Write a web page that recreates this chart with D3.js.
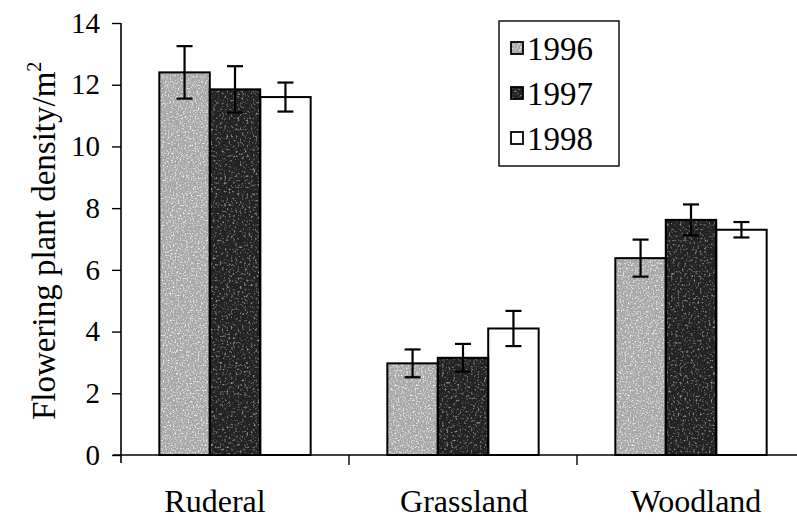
<!DOCTYPE html>
<html>
<head>
<meta charset="utf-8">
<script src="https://cdn.jsdelivr.net/npm/d3@7"></script>
<style>
  html, body { margin: 0; padding: 0; background: #fff; }
  svg { display: block; }
</style>
</head>
<body>
<svg id="chart" width="797" height="521"></svg>
<script>
// Habitat categories and survey years
const categories = ["Ruderal", "Grassland", "Woodland"];
const years = ["1996", "1997", "1998"];

// Mean flowering plant density per m² (rows follow categories, columns follow years)
const density1996 = [12.4, 2.97, 6.38];
const density1997 = [11.85, 3.15, 7.62];
const density1998 = [11.6, 4.1, 7.3];

// Error bar half-widths (same layout)
const error1996 = [0.85, 0.45, 0.6];
const error1997 = [0.75, 0.45, 0.5];
const error1998 = [0.47, 0.57, 0.25];

const yTicks = [0, 2, 4, 6, 8, 10, 12, 14];

const seriesValues = [density1996, density1997, density1998];
const seriesErrors = [error1996, error1997, error1998];

const rows = [];
categories.forEach((c, i) => {
  years.forEach((yr, j) => {
    rows.push({ category: c, year: yr, value: seriesValues[j][i], err: seriesErrors[j][i] });
  });
});

const SERIF = "'Liberation Serif', 'DejaVu Serif', serif";

const svg = d3.select("#chart")
  .attr("font-family", SERIF)
  .style("font-family", SERIF);

const plot = { left: 121, right: 805, top: 23, bottom: 455 };

const x0 = d3.scaleBand().domain(categories).range([plot.left, plot.right]).paddingInner(0).paddingOuter(0);
const x1 = d3.scaleBand().domain(years).range([0, x0.bandwidth()]).paddingInner(0).paddingOuter(0.76);
const y = d3.scaleLinear().domain([0, 14]).range([plot.bottom, plot.top]);

// Grain filter giving the fills a stippled, printed look
const defs = svg.append("defs");
function grain(id, freq, slope, intercept, opacity) {
  const f = defs.append("filter").attr("id", id)
    .attr("x", 0).attr("y", 0).attr("width", 1).attr("height", 1);
  f.append("feTurbulence").attr("type", "fractalNoise").attr("baseFrequency", freq)
    .attr("numOctaves", 2).attr("seed", 3).attr("result", "noise");
  f.append("feColorMatrix").attr("in", "noise").attr("type", "matrix")
    .attr("values", `0 0 0 0 ${intercept}  0 0 0 0 ${intercept}  0 0 0 0 ${intercept}  ${slope} 0 0 0 ${-slope * 0.5 + opacity}`)
    .attr("result", "speck");
  f.append("feComposite").attr("in", "speck").attr("in2", "SourceGraphic").attr("operator", "in");
}
grain("grainLight", 0.6, 2.6, 1, 0.05);
grain("grainDark", 0.45, 2.4, 0.6, -0.1);

const fills = { "1996": "#a6a6a6", "1997": "#222222", "1998": "#ffffff" };
const grainIds = { "1996": "grainLight", "1997": "grainDark" };

// Bars
const bars = svg.append("g");
bars.selectAll("rect.bar").data(rows).join("rect")
  .attr("class", "bar")
  .attr("x", d => x0(d.category) + x1(d.year))
  .attr("y", d => y(d.value))
  .attr("width", x1.bandwidth())
  .attr("height", d => y(0) - y(d.value))
  .attr("fill", d => fills[d.year]);

bars.selectAll("rect.grain").data(rows.filter(d => grainIds[d.year])).join("rect")
  .attr("class", "grain")
  .attr("x", d => x0(d.category) + x1(d.year))
  .attr("y", d => y(d.value))
  .attr("width", x1.bandwidth())
  .attr("height", d => y(0) - y(d.value))
  .attr("fill", "#000")
  .attr("filter", d => `url(#${grainIds[d.year]})`);

bars.selectAll("rect.outline").data(rows).join("rect")
  .attr("class", "outline")
  .attr("x", d => x0(d.category) + x1(d.year))
  .attr("y", d => y(d.value))
  .attr("width", x1.bandwidth())
  .attr("height", d => y(0) - y(d.value))
  .attr("fill", "none")
  .attr("stroke", "#000")
  .attr("stroke-width", 2);

// Error bars
const capHalf = 8;
const eb = svg.append("g").attr("stroke", "#000").attr("stroke-width", 2.2);
rows.forEach(d => {
  const cx = x0(d.category) + x1(d.year) + x1.bandwidth() / 2;
  const yHi = y(d.value + d.err), yLo = y(d.value - d.err);
  eb.append("line").attr("x1", cx).attr("x2", cx).attr("y1", yHi).attr("y2", yLo);
  eb.append("line").attr("x1", cx - capHalf).attr("x2", cx + capHalf).attr("y1", yHi).attr("y2", yHi);
  eb.append("line").attr("x1", cx - capHalf).attr("x2", cx + capHalf).attr("y1", yLo).attr("y2", yLo);
});

// Y axis
const yAxis = d3.axisLeft(y).tickValues(yTicks).tickFormat(d3.format("d")).tickSize(9).tickPadding(12);
const gy = svg.append("g").attr("transform", `translate(${plot.left},0)`).call(yAxis)
  .attr("font-family", SERIF).attr("font-size", 29);
gy.select(".domain").attr("d", `M0,${plot.top}V${plot.bottom + 8}`).attr("stroke-width", 1.6);
gy.selectAll(".tick line").attr("stroke-width", 1.4);
gy.selectAll(".tick text").attr("font-family", SERIF).attr("font-size", 29).attr("fill", "#000");

// X axis: category boundaries as downward ticks
const gx = svg.append("g");
gx.append("line").attr("x1", plot.left - 8).attr("x2", 797).attr("y1", plot.bottom).attr("y2", plot.bottom)
  .attr("stroke", "#000").attr("stroke-width", 1.6);
categories.slice(1).forEach(c => {
  gx.append("line").attr("x1", x0(c)).attr("x2", x0(c)).attr("y1", plot.bottom).attr("y2", plot.bottom + 10)
    .attr("stroke", "#000").attr("stroke-width", 1.4);
});
const labelShift = { "Ruderal": -20, "Grassland": 1, "Woodland": 5 };
gx.selectAll("text.cat").data(categories).join("text")
  .attr("class", "cat")
  .attr("x", c => x0(c) + x0.bandwidth() / 2 + labelShift[c])
  .attr("y", 512)
  .attr("text-anchor", "middle")
  .attr("font-family", SERIF)
  .attr("font-size", 32)
  .text(c => c);

// Y axis title
const title = svg.append("text")
  .attr("transform", "translate(55,420) rotate(-90)")
  .attr("font-family", SERIF)
  .attr("font-size", 33);
title.append("tspan").text("Flowering plant density/m");
title.append("tspan").attr("dy", -14).attr("font-size", 20).text("2");

// Legend
const lg = svg.append("g").attr("transform", "translate(499,21)");
lg.append("rect").attr("width", 120).attr("height", 145).attr("fill", "#fff")
  .attr("stroke", "#000").attr("stroke-width", 1.4);
years.forEach((yr, j) => {
  const row = lg.append("g").attr("transform", `translate(0,${27 + j * 45})`);
  row.append("rect").attr("x", 12).attr("y", -6).attr("width", 12).attr("height", 12).attr("fill", fills[yr]);
  if (grainIds[yr]) {
    row.append("rect").attr("x", 12).attr("y", -6).attr("width", 12).attr("height", 12)
      .attr("fill", "#000").attr("filter", `url(#${grainIds[yr]})`);
  }
  row.append("rect").attr("x", 12).attr("y", -6).attr("width", 12).attr("height", 12)
    .attr("fill", "none").attr("stroke", "#000").attr("stroke-width", 1.8);
  row.append("text").attr("x", 28).attr("y", 12).attr("font-family", SERIF).attr("font-size", 33).text(yr);
});
</script>
</body>
</html>
